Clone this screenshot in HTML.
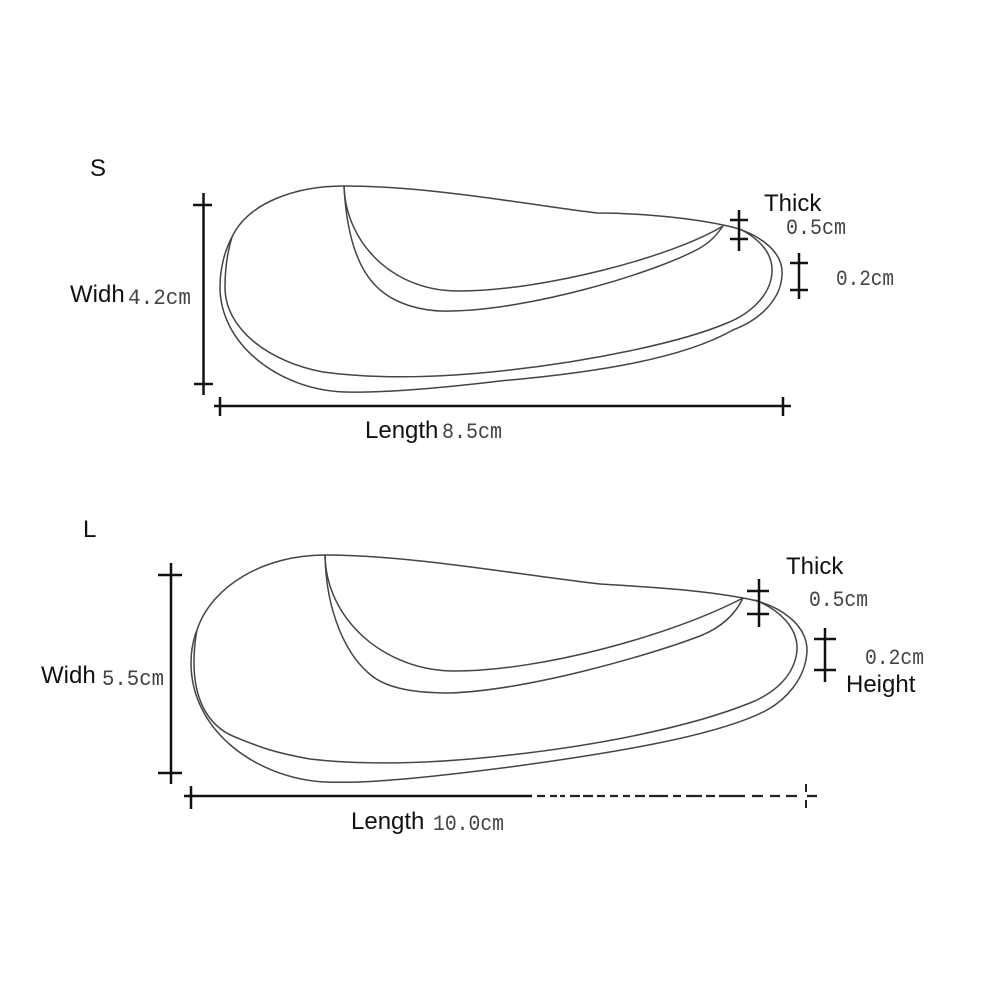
<!DOCTYPE html>
<html>
<head>
<meta charset="utf-8">
<style>
html,body{margin:0;padding:0;background:#fff;width:1001px;height:1001px;overflow:hidden}
svg{display:block}
text{font-family:"Liberation Sans",sans-serif;fill:#111;font-size:24px}
.m{font-family:"Liberation Mono",monospace;fill:#444;font-size:22px}
.o{fill:none;stroke:#444;stroke-width:1.5}
.d{fill:none;stroke:#111;stroke-width:2.5}
</style>
</head>
<body>
<svg width="1001" height="1001" viewBox="0 0 1001 1001">
<!-- S -->
<text x="90" y="176">S</text>
<path class="o" d="M232 237C248 203 295 186 344 186C430 186 530 205 597 213C640 213 690 218 723 225C755 231 784 250 782 275C781 298 762 319 733 330C680 360 590 373 500 381C450 387 390 393 345 392C280 390 220 345 220 287C220 268 225 250 232 237"/>
<path class="o" d="M738 228C758 238 773 252 772 272C771 295 750 314 727 323C680 343 590 361 510 370C440 378 375 379 323 372C270 362 225 330 225 287C225 268 228 250 232 237"/>
<path class="o" d="M344 186C346 245 395 292 460 291C540 291 670 258 723 226"/>
<path class="o" d="M344 186C346 225 354 265 377 287C395 305 425 312 450 311C530 310 655 273 700 248C712 241 718 233 723 226"/>
<g class="d">
<path d="M203.500 193V395M193 205H212M194 384H213"/>
<path d="M214 406H791M220 397V416M783 397V416"/>
<path d="M739 210V251M730 220H748M730 239H748"/>
<path d="M799 253V299M790 263H808M790 290H808"/>
</g>
<text x="70" y="302">Widh</text>
<text class="m" x="128" y="304" textLength="63" lengthAdjust="spacingAndGlyphs">4.2cm</text>
<text x="365" y="438">Length</text>
<text class="m" x="442" y="438" textLength="60" lengthAdjust="spacingAndGlyphs">8.5cm</text>
<text x="764" y="211">Thick</text>
<text class="m" x="786" y="234" textLength="60" lengthAdjust="spacingAndGlyphs">0.5cm</text>
<text class="m" x="836" y="285" textLength="58" lengthAdjust="spacingAndGlyphs">0.2cm</text>
<!-- L -->
<text x="83" y="537">L</text>
<path class="o" d="M197 630C212 585 265 555 325 555C410 555 520 575 600 584C650 587 700 590 743 598C780 604 808 625 807 652C805 680 785 700 767 710C720 735 620 752 510 767C440 776 370 784 325 782C255 778 191 730 191 663C191 650 193 640 197 630"/>
<path class="o" d="M755 600C780 610 798 628 797 650C795 675 775 693 750 703C690 727 600 745 510 755C440 763 370 766 310 759C270 752 255 745 235 737C205 725 194 695 194 663C194 650 195 640 197 630"/>
<path class="o" d="M325 555C326 620 385 671 455 671C540 671 670 636 743 598"/>
<path class="o" d="M325 555C326 610 345 655 372 676C390 690 420 693 450 693C530 690 650 655 700 636C720 628 735 615 743 598"/>
<g class="d">
<path d="M171 563V784M158 575H182M158 773H182"/>
<path d="M184 796H532M191 786V809"/>
<path d="M759 579V627M747 591H769M747 614H769"/>
<path d="M825 628V682M814 639H836M814 670H836"/>
</g>
<path d="M537 796H545M550 796H557M560 796H565M570 796H580M583 796H593M597 796H605M610 796H618M623 796H630M635 796H645M649 796H668M673 796H681M686 796H702M706 796H715M719 796H745M752 796H763M770 796H780M786 796H797M807 796H817" fill="none" stroke="#222" stroke-width="2.2"/>
<path d="M806 784V792M806 800V808" fill="none" stroke="#222" stroke-width="2"/>
<text x="41" y="683">Widh</text>
<text class="m" x="102" y="685" textLength="62" lengthAdjust="spacingAndGlyphs">5.5cm</text>
<text x="351" y="829">Length</text>
<text class="m" x="433" y="830" textLength="71" lengthAdjust="spacingAndGlyphs">10.0cm</text>
<text x="786" y="574">Thick</text>
<text class="m" x="809" y="606" textLength="59" lengthAdjust="spacingAndGlyphs">0.5cm</text>
<text class="m" x="865" y="664" textLength="59" lengthAdjust="spacingAndGlyphs">0.2cm</text>
<text x="846" y="692">Height</text>
</svg>
</body>
</html>
